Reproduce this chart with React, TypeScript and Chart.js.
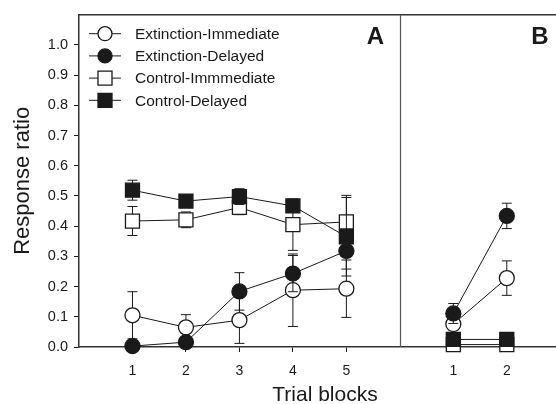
import { useEffect, useRef } from 'react';
import { Chart, registerables } from 'chart.js';

Chart.register(...registerables);

// ---- Data ----
const blocksA = [1, 2, 3, 4, 5];
const blocksB = [1, 2];
const panelBOffset = 6;
const xMax = 8.92;

const seriesNames = ['Extinction-Immediate', 'Extinction-Delayed', 'Control-Immmediate', 'Control-Delayed'];
const panelLabels = ['A', 'B'];
const xTitle = 'Trial blocks';
const yTitle = 'Response ratio';
const yTickValues = [0, 0.1, 0.2, 0.3, 0.4, 0.5, 0.6, 0.7, 0.8, 0.9, 1.0];

// Panel A
const extImmA = [0.105, 0.065, 0.089, 0.188, 0.193];
const extImmAErr = [0.078, 0.042, 0.077, 0.12, 0.095];
const extDelA = [0.003, 0.016, 0.184, 0.243, 0.318];
const extDelAErr = [0, 0, 0.062, 0.06, 0.06];
const ctlImmA = [0.417, 0.421, 0.462, 0.405, 0.414];
const ctlImmAErr = [0.048, 0.026, 0.024, 0.085, 0.088];
const ctlDelA = [0.519, 0.483, 0.498, 0.467, 0.365];
const ctlDelAErr = [0.033, 0.015, 0.026, 0.015, 0.13];

// Panel B
const extImmB = [0.076, 0.228];
const extImmBErr = [0.02, 0.057];
const extDelB = [0.111, 0.434];
const extDelBErr = [0.033, 0.042];
const ctlImmB = [0.008, 0.008];
const ctlImmBErr = [0, 0];
const ctlDelB = [0.025, 0.025];
const ctlDelBErr = [0, 0];

const INK = '#1a1a1a';
const FONT = '"Liberation Sans", Arial, sans-serif';
const styles = [
  { pointStyle: 'circle', filled: false, r: 7.5 },
  { pointStyle: 'circle', filled: true, r: 7.5 },
  { pointStyle: 'rect', filled: false, r: 9.9 },
  { pointStyle: 'rect', filled: true, r: 9.9 },
];

function makeDataset(idx: number, xs: number[], ys: number[], errs: number[], offset: number) {
  const st = styles[idx];
  return {
    label: seriesNames[idx],
    data: xs.map((x, i) => ({ x: x + offset, y: ys[i] })),
    errors: errs,
    borderColor: INK,
    borderWidth: 1,
    pointStyle: st.pointStyle,
    pointRadius: st.r,
    pointBackgroundColor: st.filled ? INK : '#ffffff',
    pointBorderColor: INK,
    pointBorderWidth: 1.3,
    showLine: true,
    fill: false,
    tension: 0,
    clip: false,
    order: 3 - idx,
  };
}

const errorBarPlugin = {
  id: 'errorBars',
  beforeDatasetDraw(chart: any, args: any) {
    const ds = chart.data.datasets[args.index];
    const meta = args.meta;
    const ys = chart.scales.y;
    const ctx = chart.ctx;
    ctx.save();
    ctx.strokeStyle = INK;
    ctx.lineWidth = 1;
    (ds.errors || []).forEach((e: number, i: number) => {
      if (!e) return;
      const pt = meta.data[i];
      const v = ds.data[i].y;
      const top = ys.getPixelForValue(v + e);
      const bot = ys.getPixelForValue(v - e);
      const cap = 5;
      ctx.beginPath();
      ctx.moveTo(pt.x, top);
      ctx.lineTo(pt.x, bot);
      ctx.moveTo(pt.x - cap, top);
      ctx.lineTo(pt.x + cap, top);
      ctx.moveTo(pt.x - cap, bot);
      ctx.lineTo(pt.x + cap, bot);
      ctx.stroke();
    });
    ctx.restore();
  },
};

const framePlugin = {
  id: 'frame',
  afterDraw(chart: any) {
    const ctx = chart.ctx;
    const area = chart.chartArea;
    const xs = chart.scales.x;
    ctx.save();
    ctx.strokeStyle = '#333';
    ctx.lineWidth = 1.5;
    // top border
    ctx.beginPath();
    ctx.moveTo(area.left, area.top);
    ctx.lineTo(area.right, area.top);
    ctx.stroke();
    // panel divider
    const dx = Math.round(xs.getPixelForValue(panelBOffset)) + 0.5;
    ctx.strokeStyle = '#555';
    ctx.lineWidth = 1.2;
    ctx.beginPath();
    ctx.moveTo(dx, area.top);
    ctx.lineTo(dx, area.bottom);
    ctx.stroke();

    // panel labels
    ctx.fillStyle = INK;
    ctx.font = `bold 24px ${FONT}`;
    ctx.textAlign = 'center';
    ctx.textBaseline = 'alphabetic';
    ctx.fillText(panelLabels[0], dx - 25, area.top + 29);
    ctx.fillText(panelLabels[1], area.right - 16, area.top + 29);

    // x axis title (centered on the original, wider plot)
    ctx.font = `21px ${FONT}`;
    ctx.fillText(xTitle, xs.getPixelForValue(4.6), 401);

    // legend
    const lx0 = area.left + 10;
    const lx1 = area.left + 42;
    const mx = area.left + 26;
    const tx = area.left + 56;
    ctx.font = `15.5px ${FONT}`;
    ctx.textAlign = 'left';
    ctx.textBaseline = 'middle';
    seriesNames.forEach((name, i) => {
      const y = area.top + 19 + i * 22.2;
      const st = styles[i];
      ctx.strokeStyle = INK;
      ctx.lineWidth = 1;
      ctx.beginPath();
      ctx.moveTo(lx0, y);
      ctx.lineTo(lx1, y);
      ctx.stroke();
      ctx.beginPath();
      if (st.pointStyle === 'circle') {
        ctx.arc(mx, y, 7, 0, Math.PI * 2);
      } else {
        ctx.rect(mx - 7, y - 7, 14, 14);
      }
      ctx.fillStyle = st.filled ? INK : '#ffffff';
      ctx.fill();
      ctx.lineWidth = 1.3;
      ctx.stroke();
      ctx.fillStyle = INK;
      ctx.fillText(name, tx, y + 1);
    });
    ctx.restore();
  },
};

export default function App() {
  const ref = useRef<HTMLCanvasElement>(null);
  useEffect(() => {
    if (!ref.current) return;
    const datasets = [
      makeDataset(0, blocksA, extImmA, extImmAErr, 0),
      makeDataset(1, blocksA, extDelA, extDelAErr, 0),
      makeDataset(2, blocksA, ctlImmA, ctlImmAErr, 0),
      makeDataset(3, blocksA, ctlDelA, ctlDelAErr, 0),
      makeDataset(0, blocksB, extImmB, extImmBErr, panelBOffset),
      makeDataset(1, blocksB, extDelB, extDelBErr, panelBOffset),
      makeDataset(2, blocksB, ctlImmB, ctlImmBErr, panelBOffset),
      makeDataset(3, blocksB, ctlDelB, ctlDelBErr, panelBOffset),
    ];
    const xTickValues = [...blocksA, ...blocksB.map((b) => b + panelBOffset)];
    const chart = new Chart(ref.current, {
      type: 'line',
      data: { datasets: datasets as any },
      plugins: [errorBarPlugin, framePlugin],
      options: {
        responsive: false,
        devicePixelRatio: 1,
        animation: false,
        layout: { autoPadding: false, padding: { top: 13, right: 0, left: 0, bottom: 0 } },
        plugins: { legend: { display: false }, tooltip: { enabled: false } },
        scales: {
          x: {
            type: 'linear',
            min: 0,
            max: xMax,
            afterBuildTicks: (scale: any) => {
              scale.ticks = xTickValues.map((v) => ({ value: v }));
            },
            afterFit: (scale: any) => {
              scale.height = 57;
              scale.paddingLeft = 0;
              scale.paddingRight = 0;
            },
            ticks: {
              autoSkip: false,
              maxRotation: 0,
              padding: 11,
              color: INK,
              font: { family: FONT, size: 14 },
              callback: (v: any) => String(v > panelBOffset ? v - panelBOffset : v),
            },
            grid: { drawOnChartArea: false, drawTicks: true, tickLength: 5, color: INK, lineWidth: 1 },
            border: { color: '#333', width: 1.5 },
            title: { display: false },
          },
          y: {
            type: 'linear',
            min: 0,
            max: 1.1,
            afterBuildTicks: (scale: any) => {
              scale.ticks = yTickValues.map((v) => ({ value: v }));
            },
            afterFit: (scale: any) => {
              scale.width = 79;
            },
            ticks: {
              padding: 6,
              color: INK,
              font: { family: FONT, size: 14.5 },
              callback: (v: any) => Number(v).toFixed(1),
            },
            grid: { drawOnChartArea: false, drawTicks: true, tickLength: 5, color: INK, lineWidth: 1 },
            border: { color: '#333', width: 1.5 },
            title: {
              display: true,
              text: yTitle,
              color: INK,
              font: { family: FONT, size: 22, lineHeight: 1 },
              padding: { top: 12, bottom: 0 },
            },
          },
        },
      } as any,
    });
    return () => chart.destroy();
  }, []);
  return (
    <div style={{ position: 'absolute', left: 0, top: 0, width: 556, height: 404, background: '#ffffff' }}>
      <canvas ref={ref} width={556} height={404} style={{ display: 'block' }} />
    </div>
  );
}
